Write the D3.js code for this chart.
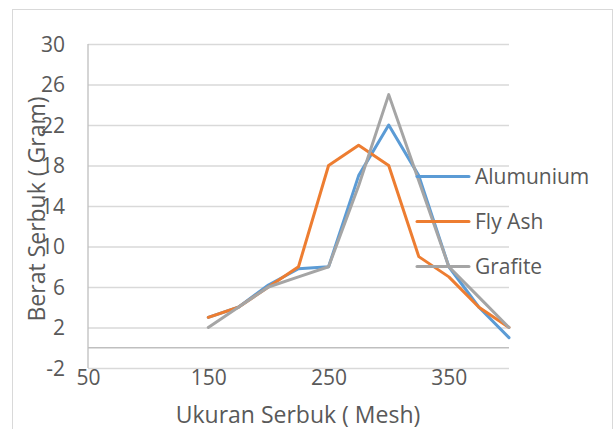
<!DOCTYPE html>
<html>
<head>
<meta charset="utf-8">
<script src="https://cdn.jsdelivr.net/npm/d3@7"></script>
<style>
    body { margin: 0; background: #fff; }
    text { font-family: "Open Sans", "Liberation Sans", sans-serif; fill: #595959; }
    .grid line { stroke: #d9d9d9; stroke-width: 1.3px; }
    .grid path { display: none; }
</style>
</head>
<body>
<div id="chart-area"></div>
<script>

// data
var meshSizes = [150, 175, 200, 225, 250, 275, 300, 325, 350, 375, 400];
var seriesNames = ["Alumunium", "Fly Ash", "Grafite"];
var alumunium = [3, 4, 6.2, 7.8, 8, 17, 22, 17, 8, 4, 1];
var flyAsh = [3, 4, 6, 8, 18, 20, 18, 9, 7, 4, 2];
var grafite = [2, 4, 6, 7, 8, 16, 25, 16.5, 8, 5, 2];
var xTicks = [50, 150, 250, 350];
var yTicks = [-2, 2, 6, 10, 14, 18, 22, 26, 30];
var colors = ["#5b9bd5", "#ed7d31", "#a5a5a5"];

/*
 * LineVis - Object constructor function
 */
LineVis = function(_parentElement){
    this.parentElement = _parentElement;
    this.initVis();
}

LineVis.prototype.initVis = function(){
    var vis = this;

    vis.margin = { top: 44, right: 106, bottom: 61, left: 88 };
    vis.width = 615 - vis.margin.left - vis.margin.right;
    vis.height = 429 - vis.margin.top - vis.margin.bottom;

    var root = d3.select("#" + vis.parentElement).append("svg")
        .attr("width", 615)
        .attr("height", 429);

    // chart border
    root.append("rect")
        .attr("x", 12.5).attr("y", 9.5)
        .attr("width", 600).attr("height", 440)
        .attr("fill", "none")
        .attr("stroke", "#d9d9d9");

    vis.svg = root.append("g")
        .attr("transform", "translate(" + vis.margin.left + "," + vis.margin.top + ")");

    vis.x = d3.scaleLinear().domain([50, 400]).range([0, vis.width]);
    vis.y = d3.scaleLinear().domain([-2, 30]).range([vis.height, 0]);

    // horizontal gridlines + y labels
    var yAxis = d3.axisLeft(vis.y)
        .tickValues(yTicks)
        .tickSize(-vis.width)
        .tickPadding(23)
        .tickFormat(function(d){ return String(d); });

    var gy = vis.svg.append("g")
        .attr("class", "grid")
        .call(yAxis);
    gy.selectAll("text")
        .style("font-size", "21px")
        .attr("dy", "0.35em");

    // x labels (no gridlines)
    var xAxis = d3.axisBottom(vis.x)
        .tickValues(xTicks)
        .tickSize(0)
        .tickPadding(2);

    var gx = vis.svg.append("g")
        .attr("class", "grid")
        .attr("transform", "translate(0," + vis.height + ")")
        .call(xAxis);
    gx.selectAll("line").remove();
    gx.selectAll("text")
        .style("font-size", "21px");

    // axis lines
    vis.svg.append("line")
        .attr("x1", 0).attr("x2", 0)
        .attr("y1", 0).attr("y2", vis.height)
        .attr("stroke", "#bfbfbf")
        .attr("stroke-width", 1.3);

    vis.svg.append("line")
        .attr("x1", 0).attr("x2", vis.width)
        .attr("y1", vis.y(0)).attr("y2", vis.y(0))
        .attr("stroke", "#bfbfbf")
        .attr("stroke-width", 1.3);

    // axis titles
    root.append("text")
        .attr("x", 298)
        .attr("y", 423)
        .attr("text-anchor", "middle")
        .style("font-size", "23px")
        .text("Ukuran Serbuk ( Mesh)");

    root.append("text")
        .attr("transform", "translate(45,209) rotate(-90)")
        .attr("text-anchor", "middle")
        .style("font-size", "23px")
        .text("Berat Serbuk ( Gram)");

    vis.wrangleData();
}

LineVis.prototype.wrangleData = function(){
    var vis = this;

    var values = [alumunium, flyAsh, grafite];
    vis.displayData = seriesNames.map(function(name, i){
        return {
            name: name,
            color: colors[i],
            points: meshSizes.map(function(m, j){ return { x: m, y: values[i][j] }; })
        };
    });

    vis.updateVis();
}

LineVis.prototype.updateVis = function(){
    var vis = this;

    var line = d3.line()
        .x(function(d){ return vis.x(d.x); })
        .y(function(d){ return vis.y(d.y); });

    vis.svg.selectAll(".series")
        .data(vis.displayData)
        .enter().append("path")
        .attr("class", "series")
        .attr("d", function(d){ return line(d.points); })
        .attr("fill", "none")
        .attr("stroke", function(d){ return d.color; })
        .attr("stroke-width", 3)
        .attr("stroke-linejoin", "round")
        .attr("stroke-linecap", "round");

    // legend
    var legend = vis.svg.selectAll(".legend")
        .data(vis.displayData)
        .enter().append("g")
        .attr("class", "legend")
        .attr("transform", function(d, i){
            return "translate(" + (417 - vis.margin.left) + "," + (176.5 - vis.margin.top + i * 45) + ")";
        });

    legend.append("line")
        .attr("x1", 0).attr("x2", 52)
        .attr("stroke", function(d){ return d.color; })
        .attr("stroke-width", 3)
        .attr("stroke-linecap", "round");

    legend.append("text")
        .attr("x", 58)
        .attr("dy", "0.35em")
        .style("font-size", "21px")
        .text(function(d){ return d.name; });
}

var lineVis = new LineVis("chart-area");

</script>
</body>
</html>
